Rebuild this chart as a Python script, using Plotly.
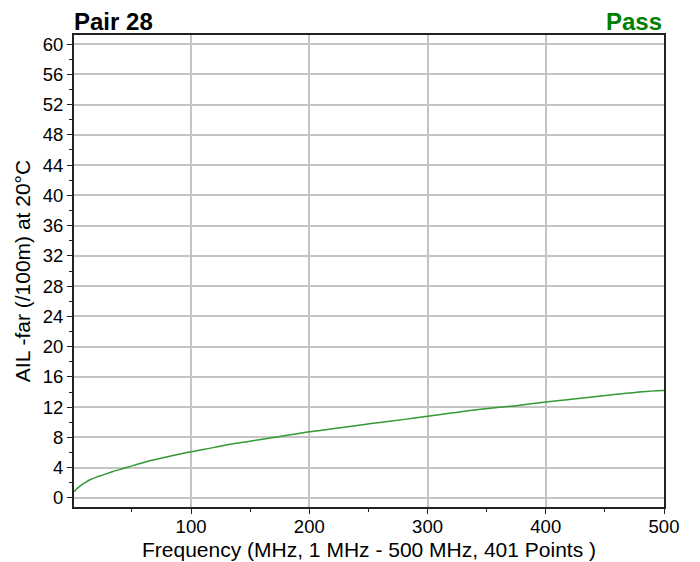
import plotly.graph_objects as go

# values
freq_mhz = [1, 3, 6, 10, 14.5, 20, 25.8, 34, 42.7, 50, 67.9, 82, 100, 118.8,
            132.9, 149.8, 172.4, 200, 223, 251, 279, 300, 321.6, 347, 375,
            400, 431.5, 459.7, 482, 500]
ail_far = [0.8, 1.15, 1.55, 2.0, 2.4, 2.75, 3.05, 3.5, 3.9, 4.24, 5.0, 5.5,
           6.1, 6.65, 7.1, 7.5, 8.05, 8.75, 9.2, 9.8, 10.35, 10.8, 11.25,
           11.75, 12.2, 12.67, 13.2, 13.7, 14.05, 14.2]

y_ticks = list(range(0, 61, 4))
x_ticks = [100, 200, 300, 400, 500]

FONT = "Liberation Sans, Arial"

fig = go.Figure()
fig.add_trace(
    go.Scatter(
        x=freq_mhz,
        y=ail_far,
        mode="lines",
        line=dict(color="#339933", width=1.5, shape="spline", smoothing=0.8),
        showlegend=False,
    )
)

axis_common = dict(
    showgrid=True,
    gridcolor="#c4c4c4",
    gridwidth=2,
    zeroline=False,
    showline=True,
    linecolor="#222222",
    linewidth=2,
    mirror=True,
    ticks="outside",
    ticklen=5,
    tickcolor="#222222",
    tickfont=dict(family=FONT, size=18.5, color="#000000"),
)

fig.update_xaxes(
    range=[1, 500],
    tickvals=x_ticks,
    ticklabelstandoff=-3,
    minor=dict(dtick=50, tick0=0, ticks="outside", ticklen=3, tickcolor="#222222", showgrid=False),
    **axis_common,
)
fig.update_yaxes(
    range=[-1.2, 61.2],
    tickvals=y_ticks,
    minor=dict(dtick=2, tick0=0, ticks="outside", ticklen=3, tickcolor="#222222", showgrid=False),
    title=dict(
        text="AIL -far (/100m) at 20°C",
        font=dict(family=FONT, size=21, color="#000000"),
        standoff=6,
    ),
    **axis_common,
)

# page body adds an 8px offset, so margins are shifted to compensate
fig.update_layout(
    width=700,
    height=562,
    margin=dict(l=66, r=44, t=27, b=63, autoexpand=False),
    paper_bgcolor="white",
    plot_bgcolor="white",
    annotations=[
        dict(
            text="<b>Pair 28</b>",
            xref="paper", yref="paper",
            x=0.0, y=1.0,
            xanchor="left", yanchor="bottom",
            xshift=-2, yshift=-2,
            showarrow=False,
            font=dict(family=FONT, size=24, color="#000000"),
        ),
        dict(
            text="<b>Pass</b>",
            xref="paper", yref="paper",
            x=1.0, y=1.0,
            xanchor="right", yanchor="bottom",
            yshift=-2,
            showarrow=False,
            font=dict(family=FONT, size=24, color="#008000"),
        ),
        # x-axis title as an annotation so it sits inside the visible page
        dict(
            text="Frequency (MHz, 1 MHz - 500 MHz, 401 Points )",
            xref="paper", yref="paper",
            x=0.5, y=0.0,
            xanchor="center", yanchor="middle",
            yshift=-42,
            showarrow=False,
            font=dict(family=FONT, size=21, color="#000000"),
        ),
    ],
)

fig.write_html("out.html")
